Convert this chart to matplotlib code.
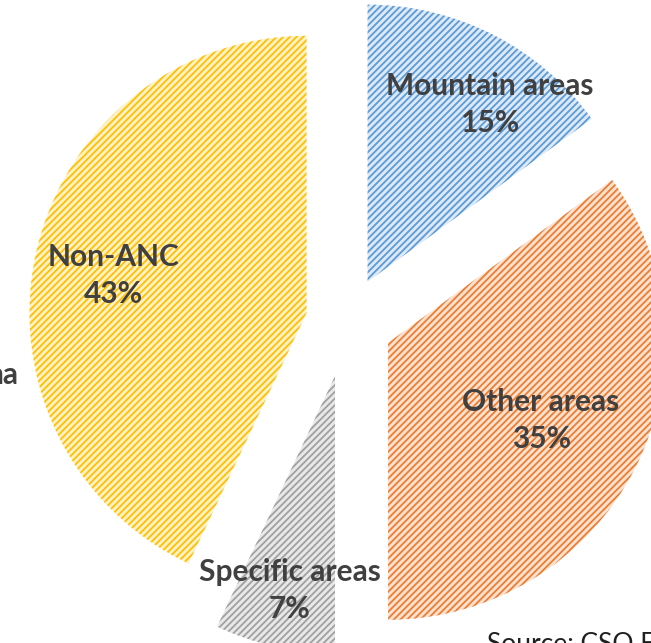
import numpy as np
import matplotlib
matplotlib.use("Agg")
import matplotlib.pyplot as plt

labels = ["Mountain areas", "Other areas", "Specific areas", "Non-ANC"]
shares = [15, 35, 7, 43]
explode = [0.163, 0.166, 0.20, 0.15]

fills = ["#dde9f6", "#fbe1d0", "#e8e8e8", "#fff1c8"]
stripes = ["#5b9bd5", "#ed7d31", "#a0a0a0", "#ffc000"]

# label placement: distance from wedge tip (fraction of radius) and angle shift
label_dist = [0.776, 0.62, 0.79, 0.71]
label_shift = [-7.6, 0.0, 0.7, 1.6]

plt.rcParams["hatch.linewidth"] = 1.3
plt.rcParams["font.family"] = ["Lato", "DejaVu Sans"]

fig = plt.figure(figsize=(6.51, 6.43), dpi=100)
ax = fig.add_axes([0, 0, 1, 1])

wedges, _ = ax.pie(shares, explode=explode, startangle=90, counterclock=False,
                   radius=1.0, wedgeprops=dict(linewidth=0))

for w, fc, sc in zip(wedges, fills, stripes):
    w.set_facecolor(fc)
    w.set_edgecolor(sc)
    w.set_hatch("/////")
    w.set_linewidth(0)

for w, lab, val, d, s in zip(wedges, labels, shares, label_dist, label_shift):
    mid = np.deg2rad((w.theta1 + w.theta2) / 2 + s)
    cx, cy = w.center
    x = cx + d * np.cos(mid)
    y = cy + d * np.sin(mid)
    ax.text(x, y, f"{lab}\n{val}%", ha="center", va="center",
            fontsize=21.5, fontweight="bold", color="#404040", linespacing=1.4)

# texts cut off at the edges, as in the source image
ax.text(-1.188, -0.191, "na", ha="right", va="center", fontsize=21.5,
        fontweight="bold", color="#404040")
ax.text(0.505, -1.119, "Source: CSO E", ha="left", va="top", fontsize=19,
        color="#202020")

ax.set_xlim(-1.253, 1.097)
ax.set_ylim(-1.159, 1.162)
ax.set_aspect("equal")
ax.axis("off")

fig.savefig("out.png", dpi=100)
